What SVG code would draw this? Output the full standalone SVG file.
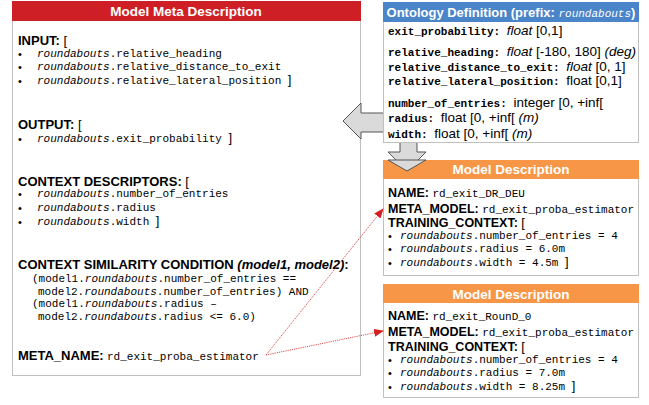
<svg xmlns="http://www.w3.org/2000/svg" width="649" height="405" viewBox="0 0 649 405">
<defs>
<style>
.box{fill:#fff;stroke:#c0c0c0;stroke-width:1}
.hdr{font-family:"Liberation Sans",Arial,sans-serif;font-weight:bold;font-size:13.5px;fill:#fff;text-anchor:middle}
.b{font-family:"Liberation Sans",Arial,sans-serif;font-weight:bold;font-size:13px;fill:#000}
.bs{font-family:"Liberation Sans",Arial,sans-serif;font-weight:bold;font-size:12.5px;fill:#000}
.s{font-family:"Liberation Sans",Arial,sans-serif;font-weight:normal;font-size:13px;fill:#000}
.s2{font-family:"Liberation Sans",Arial,sans-serif;font-weight:normal;font-size:13.5px;fill:#000}
.m{font-family:"Liberation Mono","Courier New",monospace;font-weight:normal;font-size:11px;fill:#000}
.mb{font-family:"Liberation Mono","Courier New",monospace;font-size:11px;font-weight:bold;fill:#000}
.i{font-style:italic}
.bul{font-family:"Liberation Sans",Arial,sans-serif;font-size:11px;fill:#000}
.garrow{fill:#dadada;stroke:#555;stroke-width:1}
.link{fill:none;stroke:#d42020;stroke-width:0.8;stroke-dasharray:1.2,1}
</style>
<marker id="ah" markerWidth="10" markerHeight="8" refX="9" refY="4" orient="auto" markerUnits="userSpaceOnUse">
<path d="M0,0 L10,4 L0,8 Z" fill="#d42020"/>
</marker>
</defs>

<g id="meta">
<rect class="box" x="12.5" y="1.5" width="348" height="374"/>
<rect x="12" y="1" width="349" height="20" fill="#cf1f26"/>
<text class="hdr" x="186" y="16">Model Meta Description</text>
<text class="b" x="18" y="45">INPUT: <tspan class="s">[</tspan></text>
<text class="bul" x="18" y="58">•</text>
<text class="m" x="37" y="57"><tspan class="i">roundabouts</tspan>.relative_heading</text>
<text class="bul" x="18" y="71">•</text>
<text class="m" x="37" y="70"><tspan class="i">roundabouts</tspan>.relative_distance_to_exit</text>
<text class="bul" x="18" y="85">•</text>
<text class="m" x="37" y="84"><tspan class="i">roundabouts</tspan>.relative_lateral_position <tspan class="s">]</tspan></text>

<text class="b" x="18" y="129">OUTPUT: <tspan class="s">[</tspan></text>
<text class="bul" x="18" y="143">•</text>
<text class="m" x="37" y="142"><tspan class="i">roundabouts</tspan>.exit_probability <tspan class="s">]</tspan></text>

<text class="b" x="18" y="186">CONTEXT DESCRIPTORS: <tspan class="s">[</tspan></text>
<text class="bul" x="18" y="198">•</text>
<text class="m" x="37" y="197"><tspan class="i">roundabouts</tspan>.number_of_entries</text>
<text class="bul" x="18" y="212">•</text>
<text class="m" x="37" y="211"><tspan class="i">roundabouts</tspan>.radius</text>
<text class="bul" x="18" y="226">•</text>
<text class="m" x="37" y="225"><tspan class="i">roundabouts</tspan>.width <tspan class="s">]</tspan></text>

<text class="b" x="18" y="269">CONTEXT SIMILARITY CONDITION <tspan class="i">(model1, model2)</tspan>:</text>
<text class="m" x="32" y="282">(model1.<tspan class="i">roundabouts</tspan>.number_of_entries ==</text>
<text class="m" x="38" y="295">model2.<tspan class="i">roundabouts</tspan>.number_of_entries) AND</text>
<text class="m" x="32" y="307">(model1.<tspan class="i">roundabouts</tspan>.radius –</text>
<text class="m" x="38" y="320">model2.<tspan class="i">roundabouts</tspan>.radius &lt;= 6.0)</text>

<text class="b" x="18" y="360">META_NAME: <tspan class="m" x="107">rd_exit_proba_estimator</tspan></text>
</g>

<g id="arrows-gray">
<polygon class="garrow" points="343,121 361,103 361,113 384,113 384,132 361,132 361,139"/>
<polygon class="garrow" points="400,142 417,142 417,152 426,152 407,171 388,152 400,152"/>
</g>

<g id="ontology">
<rect class="box" x="383.5" y="2.5" width="255" height="140"/>
<rect x="383" y="2" width="256" height="20" fill="#4a84c9"/>
<text class="hdr" x="511" y="16.5" font-size="13" style="font-size:13px">Ontology Definition (prefix: <tspan font-family="Liberation Mono,monospace" font-style="italic" font-weight="normal" style="font-size:11px">roundabouts</tspan>)</text>
<text class="mb" x="388" y="35">exit_probability: <tspan class="s2 i">float</tspan><tspan class="s2"> [0,1]</tspan></text>
<text class="mb" x="388" y="56">relative_heading: <tspan class="s2 i">float</tspan><tspan class="s2"> [-180, 180] </tspan><tspan class="s2 i">(deg)</tspan></text>
<text class="mb" x="388" y="71">relative_distance_to_exit: <tspan class="s2 i">float</tspan><tspan class="s2"> [0, 1]</tspan></text>
<text class="mb" x="388" y="85">relative_lateral_position: <tspan class="s2">float [0,1]</tspan></text>
<text class="mb" x="388" y="107">number_of_entries: <tspan class="s2">integer [0, +inf[</tspan></text>
<text class="mb" x="388" y="122">radius: <tspan class="s2">float [0, +inf[ </tspan><tspan class="s2 i">(m)</tspan></text>
<text class="mb" x="388" y="138">width: <tspan class="s2">float [0, +inf[ </tspan><tspan class="s2 i">(m)</tspan></text>
</g>

<g id="model1">
<rect class="box" x="383.5" y="160.5" width="255" height="115"/>
<rect x="383" y="160" width="256" height="19" fill="#f79646"/>
<polygon class="garrow" points="388,160 426,160 407,171"/>
<text class="hdr" x="511" y="174">Model Description</text>
<text class="bs" x="388" y="197">NAME: <tspan class="m">rd_exit_DR_DEU</tspan></text>
<text class="bs" x="388" y="213">META_MODEL: <tspan class="m">rd_exit_proba_estimator</tspan></text>
<text class="bs" x="388" y="227">TRAINING_CONTEXT: <tspan class="s">[</tspan></text>
<text class="bul" x="388" y="240">•</text>
<text class="m" x="400" y="239"><tspan class="i">roundabouts</tspan>.number_of_entries = 4</text>
<text class="bul" x="388" y="253">•</text>
<text class="m" x="400" y="252"><tspan class="i">roundabouts</tspan>.radius = 6.0m</text>
<text class="bul" x="388" y="267">•</text>
<text class="m" x="400" y="266"><tspan class="i">roundabouts</tspan>.width = 4.5m <tspan class="s">]</tspan></text>
</g>

<g id="model2">
<rect class="box" x="383.5" y="284.5" width="255" height="113"/>
<rect x="383" y="284" width="256" height="19" fill="#f79646"/>
<text class="hdr" x="511" y="298.5">Model Description</text>
<text class="bs" x="388" y="320">NAME: <tspan class="m">rd_exit_RounD_0</tspan></text>
<text class="bs" x="388" y="336">META_MODEL: <tspan class="m">rd_exit_proba_estimator</tspan></text>
<text class="bs" x="388" y="351">TRAINING_CONTEXT: <tspan class="s">[</tspan></text>
<text class="bul" x="388" y="364">•</text>
<text class="m" x="400" y="363"><tspan class="i">roundabouts</tspan>.number_of_entries = 4</text>
<text class="bul" x="388" y="377">•</text>
<text class="m" x="400" y="376"><tspan class="i">roundabouts</tspan>.radius = 7.0m</text>
<text class="bul" x="388" y="391">•</text>
<text class="m" x="400" y="390"><tspan class="i">roundabouts</tspan>.width = 8.25m <tspan class="s">]</tspan></text>
</g>

<g id="connectors">
<line class="link" x1="266" y1="355" x2="383" y2="209" marker-end="url(#ah)"/>
<line class="link" x1="266" y1="355" x2="383" y2="331" marker-end="url(#ah)"/>
</g>
</svg>
